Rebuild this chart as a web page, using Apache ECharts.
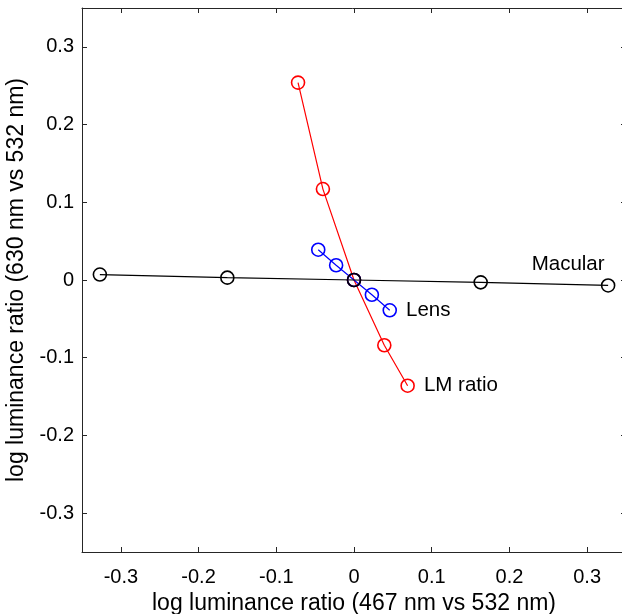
<!DOCTYPE html>
<html>
<head>
<meta charset="utf-8">
<script src="https://cdn.jsdelivr.net/npm/echarts@6/dist/echarts.min.js"></script>
<style>
  html, body { margin: 0; padding: 0; background: #fff; }
  #chart { width: 622px; height: 614px; }
</style>
</head>
<body>
<div id="chart"></div>
<script>
// tick positions on both axes
const tickValues = [-0.3, -0.2, -0.1, 0, 0.1, 0.2, 0.3]

// Macular series
const macularX = [-0.327, -0.163, 0, 0.163, 0.327]
const macularY = [0.007, 0.003, 0, -0.003, -0.007]

// Lens series
const lensX = [-0.046, -0.023, 0, 0.023, 0.046]
const lensY = [0.039, 0.019, 0, -0.019, -0.039]

// LM ratio series
const lmX = [-0.072, -0.04, 0, 0.039, 0.069]
const lmY = [0.254, 0.117, 0, -0.084, -0.136]

const pairs = (xs, ys) => xs.map((x, i) => [x, ys[i]])
const fmt = (v) => String(Math.round(v * 10) / 10)

const font = 'Liberation Sans, Arial, sans-serif'
const axisColor = '#262626'

const baseAxis = {
  type: 'value',
  min: -0.35,
  max: 0.35,
  splitLine: { show: false },
  axisLine: { show: true, onZero: false, lineStyle: { color: axisColor, width: 1 } },
  axisTick: { show: true, inside: true, length: 5, customValues: tickValues, lineStyle: { color: axisColor } },
  axisLabel: { show: true, customValues: tickValues, formatter: fmt, color: '#000', fontSize: 20, fontFamily: font }
}

const makeSeries = (name, data, color, labelOpt) => ({
  name: name,
  type: 'line',
  data: data.map((d, i) => {
    if (i === data.length - 1 && labelOpt) {
      return { value: d, label: Object.assign({ show: true, formatter: name, color: '#000', fontSize: 20.5, fontFamily: font }, labelOpt) }
    }
    return d
  }),
  symbol: 'circle',
  symbolSize: 13,
  showAllSymbol: true,
  lineStyle: { color: color, width: 1.2 },
  itemStyle: { color: 'rgba(0,0,0,0)', borderColor: color, borderWidth: 1.6 },
  emphasis: { disabled: true },
  z: 2
})

const chart = echarts.init(document.getElementById('chart'))
chart.setOption({
  animation: false,
  backgroundColor: '#fff',
  grid: { left: 82, top: 8, width: 544, height: 544, outerBoundsMode: 'none', containLabel: false },
  xAxis: [
    Object.assign({}, baseAxis, {
      position: 'bottom',
      name: 'log luminance ratio (467 nm vs 532 nm)',
      nameLocation: 'middle',
      nameGap: 35,
      nameTextStyle: { color: '#000', fontSize: 23, fontFamily: font },
      axisLabel: Object.assign({}, baseAxis.axisLabel, { margin: 15 })
    }),
    Object.assign({}, baseAxis, {
      position: 'top',
      axisLabel: { show: false }
    })
  ],
  yAxis: [
    Object.assign({}, baseAxis, {
      position: 'left',
      name: 'log luminance ratio (630 nm vs 532 nm)',
      nameLocation: 'middle',
      nameGap: 48,
      nameTextStyle: { color: '#000', fontSize: 23, fontFamily: font },
      axisLabel: Object.assign({}, baseAxis.axisLabel, { margin: 8 })
    }),
    Object.assign({}, baseAxis, {
      position: 'right',
      axisLabel: { show: false }
    })
  ],
  series: [
    makeSeries('LM ratio', pairs(lmX, lmY), '#ff0000', { position: 'right', distance: 9 }),
    makeSeries('Lens', pairs(lensX, lensY), '#0000ff', { position: 'right', distance: 9 }),
    makeSeries('Macular', pairs(macularX, macularY), '#000000', { position: 'top', distance: 4, offset: [-40, 1] })
  ]
})
</script>
</body>
</html>
